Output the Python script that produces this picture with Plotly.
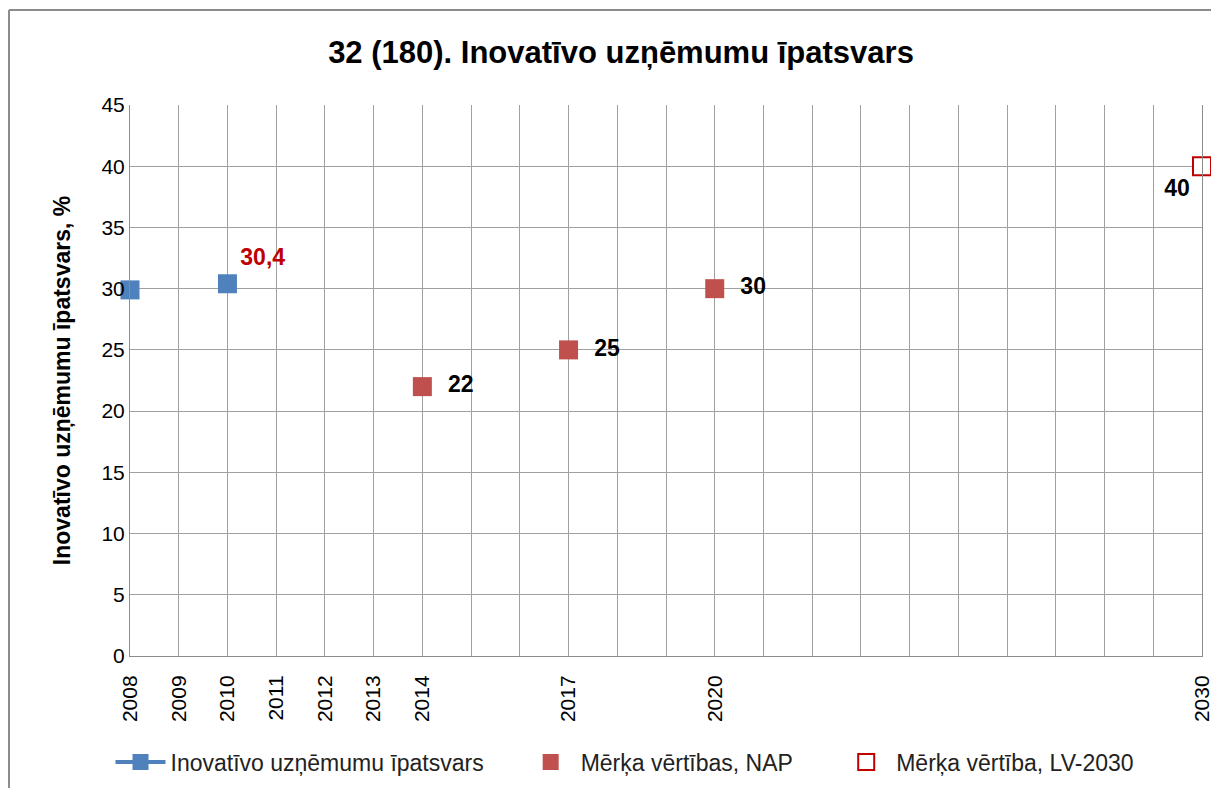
import plotly.graph_objects as go

# Data
years_actual = [2008, 2009, 2010]
values_actual = [29.9, None, 30.4]
labels_actual = ["", "", "30,4"]

years_nap = [2014, 2017, 2020]
values_nap = [22, 25, 30]
labels_nap = ["22", "25", "30"]

years_lv = [2030]
values_lv = [40]
labels_lv = ["40"]

all_years = list(range(2008, 2031))
labeled_years = [2008, 2009, 2010, 2011, 2012, 2013, 2014, 2017, 2020, 2030]
tick_text = [str(y) if y in labeled_years else "" for y in all_years]

FONT = "Liberation Sans"
BLUE = "#4F81BD"
RED = "#C0504D"
DARKRED = "#C00000"
NB = "\u00a0"

W, H = 1211, 780
L, R, T, B = 122, 17, 97, 132
PW, PH = W - L - R, H - T - B

fig = go.Figure()

fig.add_trace(go.Scatter(
    x=years_actual, y=values_actual, mode="lines+markers+text",
    name="Inovatīvo uzņēmumu īpatsvars" + NB * 5,
    line=dict(color=BLUE, width=4),
    marker=dict(symbol="square", size=19, color=BLUE),
    text=labels_actual, textposition="top right",
    textfont=dict(family=FONT, size=23, color=DARKRED, weight="bold"),
    connectgaps=False, cliponaxis=False,
))

fig.add_trace(go.Scatter(
    x=years_nap, y=values_nap, mode="markers+text",
    name="Mērķa vērtības, NAP" + NB * 6,
    marker=dict(symbol="square", size=19, color=RED),
    text=[NB * 2 + t for t in labels_nap], textposition="middle right",
    textfont=dict(family=FONT, size=23, color="#000000", weight="bold"),
    cliponaxis=False,
))

fig.add_trace(go.Scatter(
    x=years_lv, y=values_lv, mode="markers+text",
    name="Mērķa vērtība, LV-2030",
    marker=dict(symbol="square", size=18, color="#FFFFFF", line=dict(color=DARKRED, width=2)),
    text=labels_lv, textposition="bottom left",
    textfont=dict(family=FONT, size=23, color="#000000", weight="bold"),
    cliponaxis=False,
))

fig.update_layout(
    width=W, height=H,
    margin=dict(l=L, r=R, t=T, b=B, autoexpand=False),
    paper_bgcolor="white", plot_bgcolor="white",
    font=dict(family=FONT, size=20, color="#222222"),
    title=dict(text="<b>32 (180). Inovatīvo uzņēmumu īpatsvars</b>",
               x=(621 - 8) / W, xanchor="center", xref="container", y=1 - 44 / H, yanchor="middle",
               font=dict(family=FONT, size=31, color="#000000")),
    showlegend=True,
    legend=dict(orientation="h", x=(625 - 8) / W, xanchor="center", xref="container",
                y=1 - 754 / H, yanchor="middle", yref="container",
                font=dict(family=FONT, size=23, color="#222222"),
                itemwidth=50, tracegroupgap=0),
    xaxis=dict(
        range=[2008, 2030], tickmode="array", tickvals=all_years, ticktext=tick_text,
        tickangle=-90, showgrid=True, gridcolor="#A0A0A0", gridwidth=1,
        showline=True, linecolor="#8C8C8C", linewidth=1, zeroline=False,
        tickfont=dict(family=FONT, size=21, color="#000000"), ticks="",
        ticklabelstandoff=10, ticklabeloverflow="allow", automargin=False,
    ),
    yaxis=dict(
        range=[0, 45], dtick=5, showgrid=True, gridcolor="#A0A0A0", gridwidth=1,
        showline=True, linecolor="#8C8C8C", linewidth=1, zeroline=False,
        tickfont=dict(family=FONT, size=21, color="#000000"), ticks="",
        title=dict(text="<b>Inovatīvo uzņēmumu īpatsvars, %</b>",
                   font=dict(family=FONT, size=23, color="#000000"), standoff=24),
        mirror=True, automargin=False,
    ),
    shapes=[
        dict(type="line", xref="paper", yref="paper",
             x0=(1 - L) / PW, x1=(W + 5 - L) / PW, y0=(H - B - 2) / PH, y1=(H - B - 2) / PH,
             line=dict(color="#8C8C8C", width=2)),
        dict(type="line", xref="paper", yref="paper",
             x0=(1 - L) / PW, x1=(1 - L) / PW, y0=-(B + 5) / PH, y1=(H - B - 2) / PH,
             line=dict(color="#8C8C8C", width=2)),
    ],
)

fig.write_html("out.html")
